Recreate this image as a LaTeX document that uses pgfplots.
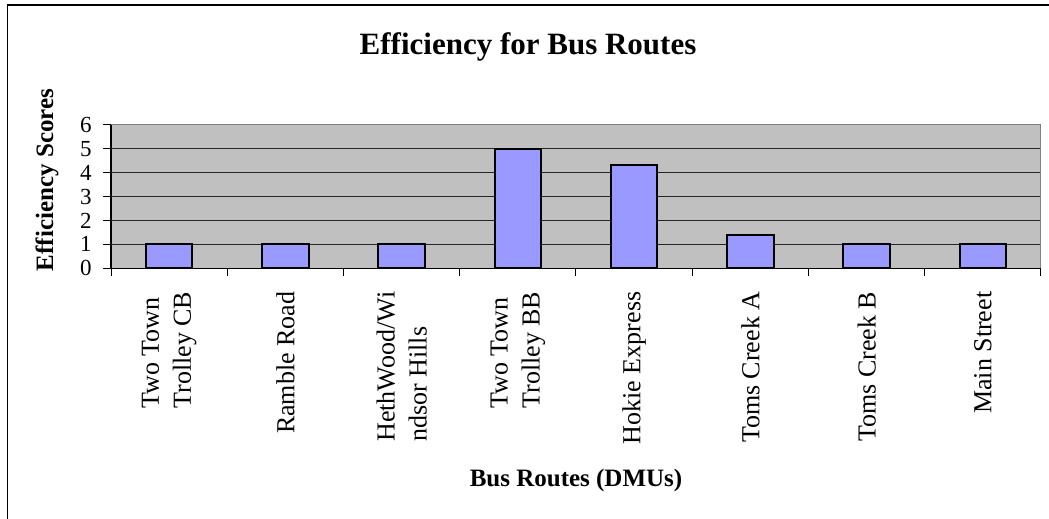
\documentclass[border=0pt]{standalone}
\usepackage{fontspec}
\setmainfont{Liberation Serif}
\usepackage{pgfplots}
\pgfplotsset{compat=1.18}
\definecolor{plotgray}{HTML}{C0C0C0}
\definecolor{barblue}{HTML}{9999FF}
\definecolor{bordergray}{HTML}{808080}
\begin{document}
\begin{tikzpicture}
\useasboundingbox (0,0) rectangle (524.5pt,-259.5pt);
\draw[black, line width=0.6pt] (524.5pt,-2.5pt) -- (3.75pt,-2.5pt) -- (3.75pt,-259.5pt);
\begin{axis}[
  at={(55.5pt,-134.15pt)}, anchor=south west,
  scale only axis, width=465pt, height=71.75pt,
  xmin=-0.5, xmax=7.5, ymin=0, ymax=6,
  axis background/.style={fill=plotgray},
  axis x line*=bottom, axis y line*=left,
  axis line style={black, line width=0.6pt, -},
  ytick={0,1,...,6},
  ymajorgrids, grid style={black!85, line width=0.5pt},
  xtick={-0.5,0.5,...,7.5},
  x tick label as interval,
  xticklabels={{Two Town\\Trolley CB},{Ramble Road},{HethWood/Wi\\ndsor Hills},{Two Town\\Trolley BB},{Hokie Express},{Toms Creek A},{Toms Creek B},{Main Street}},
  tick align=outside, major tick length=4pt,
  tick style={black, line width=0.5pt},
  xticklabel style={rotate=90, anchor=east, align=left, inner ysep=0pt, inner xsep=7.5pt, font=\fontsize{13}{16}\selectfont},
  yticklabel style={anchor=east, inner ysep=0pt, inner xsep=5.5pt, font=\fontsize{11.5}{12}\selectfont},
  /pgf/number format/assume math mode=true,
  ybar, bar width=0.4,
]
\draw[bordergray, line width=0.5pt] (rel axis cs:0,1) -- (rel axis cs:1,1) -- (rel axis cs:1,0);
\addplot[fill=barblue, draw=black, line width=0.9pt] coordinates {
  (0,1) (1,1) (2,1) (3,5) (4,4.33) (5,1.38) (6,1) (7,1)
};
\end{axis}
\node[font=\fontsize{15.5}{18}\selectfont\bfseries] at (264pt,-23.5pt) {Efficiency for Bus Routes};
\node[font=\fontsize{12.5}{15}\selectfont\bfseries] at (288pt,-240pt) {Bus Routes (DMUs)};
\node[font=\fontsize{12.5}{15}\selectfont\bfseries, rotate=90] at (23.5pt,-90pt) {Efficiency Scores};
\end{tikzpicture}
\end{document}
